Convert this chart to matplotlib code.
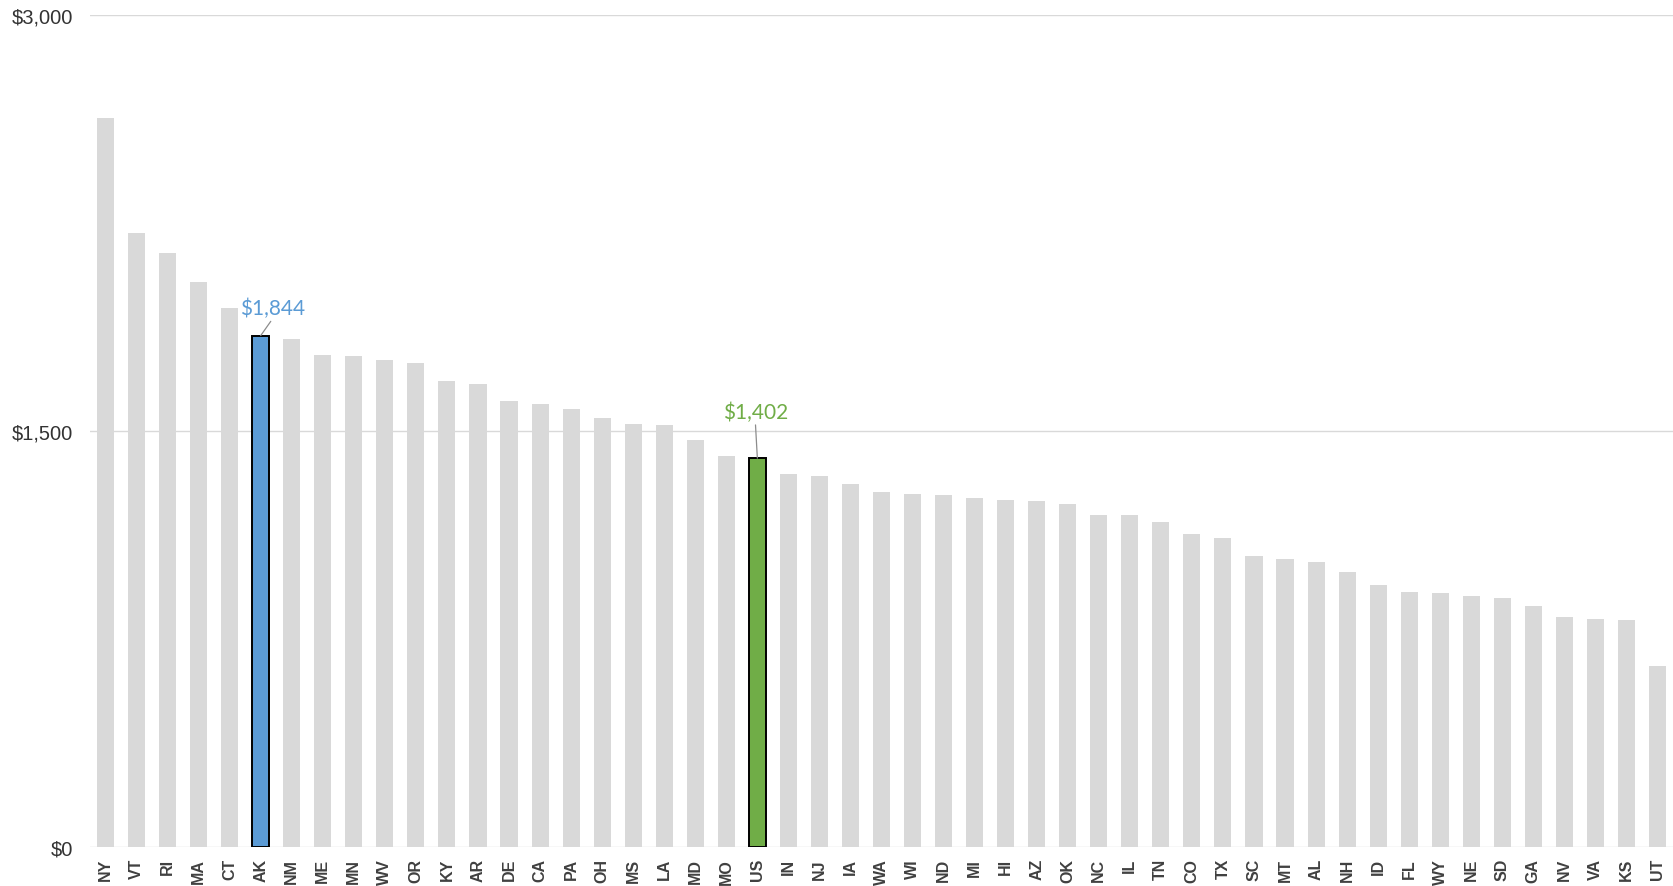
import matplotlib
matplotlib.use("Agg")
import matplotlib.pyplot as plt
from matplotlib.ticker import FixedLocator

# cost per state, sorted high to low (US average included)
states = ["NY", "VT", "RI", "MA", "CT", "AK", "NM", "ME", "MN", "WV", "OR", "KY", "AR",
          "DE", "CA", "PA", "OH", "MS", "LA", "MD", "MO", "US", "IN", "NJ", "IA", "WA",
          "WI", "ND", "MI", "HI", "AZ", "OK", "NC", "IL", "TN", "CO", "TX", "SC", "MT",
          "AL", "NH", "ID", "FL", "WY", "NE", "SD", "GA", "NV", "VA", "KS", "UT"]
values = [2628, 2215, 2142, 2036, 1944, 1844, 1833, 1774, 1771, 1755, 1745, 1680, 1669,
          1608, 1596, 1578, 1545, 1524, 1522, 1468, 1411, 1402, 1346, 1338, 1307, 1279,
          1273, 1269, 1259, 1250, 1247, 1238, 1198, 1198, 1171, 1130, 1115, 1048, 1037,
          1029, 992, 944, 921, 915, 904, 897, 869, 829, 822, 819, 654]
yticks = [0, 1500, 3000]

gray = "#D9D9D9"
blue = "#5B9BD5"
green = "#70AD47"
text_col = "#333333"

highlight = {"AK": blue, "US": green}
# text offset from bar top, in pixels
label_offset = {"AK": (12, 17), "US": (-2, 36)}

fig = plt.figure(figsize=(16.73, 8.87), dpi=100)
ax = fig.add_axes([0.0538, 0.044, 0.9462, 0.938])

x = list(range(len(states)))
colors = [highlight.get(s, gray) for s in states]
edges = ["black" if s in highlight else "none" for s in states]
ax.bar(x, values, width=0.55, color=colors, edgecolor=edges, linewidth=1.4, zorder=3)

for s, c in highlight.items():
    i = states.index(s)
    v = values[i]
    dx, dy = label_offset[s]
    ax.annotate(f"${v:,}", xy=(i, v), xytext=(dx, dy), textcoords="offset pixels",
                ha="center", va="bottom", color=c, fontsize=15, family="Lato",
                arrowprops=dict(arrowstyle="-", color="#8C8C8C", lw=0.9,
                                shrinkA=0, shrinkB=0, relpos=(0.5, 0.0)),
                zorder=4)

ax.set_xlim(-0.5, len(states) - 0.5)
ax.set_ylim(0, 3000)
ax.yaxis.set_major_locator(FixedLocator(yticks))
ax.set_yticklabels([f"${t:,}" for t in yticks], family="Liberation Sans",
                   fontsize=14.5, color=text_col)
ax.set_xticks(x)
ax.set_xticklabels(states, rotation=90, family="Liberation Sans", fontsize=11.5,
                   fontweight="bold", color="#404040")
ax.tick_params(axis="y", length=0, pad=12)
ax.tick_params(axis="x", length=0, pad=8)
ax.grid(axis="y", color=gray, lw=1.0, zorder=0)
for sp in ax.spines.values():
    sp.set_visible(False)

fig.savefig("out.png", dpi=100)
